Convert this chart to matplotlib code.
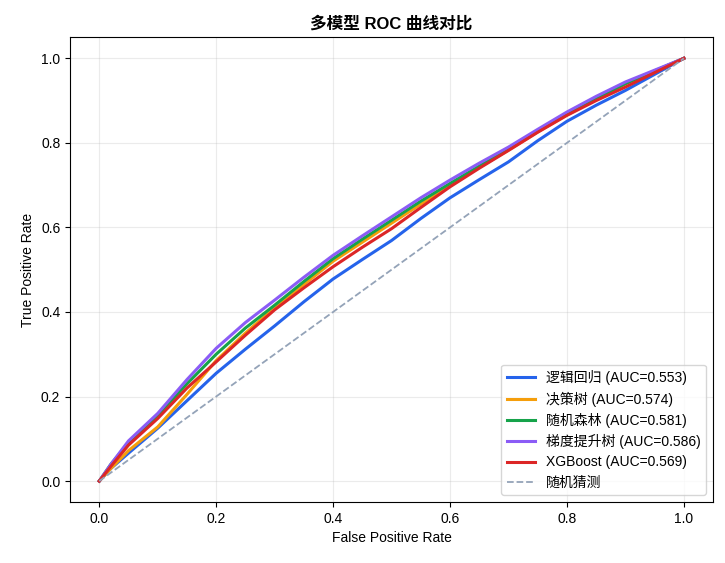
import numpy as np
import matplotlib
matplotlib.use('Agg')
from matplotlib import pyplot as plt

plt.rcParams['font.family'] = ['Liberation Sans', 'Noto Sans CJK SC', 'DejaVu Sans']
plt.rcParams['axes.unicode_minus'] = False

# FPR grid
fpr = [0, 0.02, 0.05, 0.1, 0.15, 0.2, 0.25, 0.3, 0.35, 0.4, 0.45,
       0.5, 0.55, 0.6, 0.65, 0.7, 0.75, 0.8, 0.85, 0.9, 0.95, 1.0]

tpr_lr = [0, 0.03, 0.066, 0.125, 0.19, 0.255, 0.312, 0.367, 0.424, 0.478, 0.524,
          0.569, 0.621, 0.67, 0.713, 0.755, 0.805, 0.851, 0.889, 0.924, 0.962, 1.0]
tpr_dt = [0, 0.03, 0.072, 0.128, 0.205, 0.285, 0.35, 0.41, 0.465, 0.52, 0.565,
          0.61, 0.655, 0.70, 0.742, 0.783, 0.826, 0.866, 0.904, 0.94, 0.97, 1.0]
tpr_rf = [0, 0.04, 0.09, 0.155, 0.23, 0.30, 0.362, 0.416, 0.472, 0.526, 0.572,
          0.617, 0.662, 0.704, 0.745, 0.785, 0.828, 0.868, 0.905, 0.94, 0.97, 1.0]
tpr_gb = [0, 0.04, 0.095, 0.16, 0.24, 0.314, 0.375, 0.428, 0.482, 0.534, 0.58,
          0.625, 0.67, 0.712, 0.752, 0.79, 0.832, 0.873, 0.91, 0.944, 0.972, 1.0]
tpr_xgb = [0, 0.035, 0.085, 0.148, 0.22, 0.282, 0.345, 0.405, 0.457, 0.507, 0.553,
           0.597, 0.647, 0.696, 0.74, 0.782, 0.825, 0.865, 0.9, 0.932, 0.966, 1.0]

names = ['逻辑回归', '决策树', '随机森林', '梯度提升树', 'XGBoost']
aucs = [0.553, 0.574, 0.581, 0.586, 0.569]
curves = [tpr_lr, tpr_dt, tpr_rf, tpr_gb, tpr_xgb]
colors = ['#2563eb', '#f59e0b', '#16a34a', '#8b5cf6', '#dc2626']

fig = plt.figure(figsize=(7.25, 5.63), dpi=100)
ax = fig.add_axes([0.0966, 0.108, 0.887, 0.826])

for name, auc, tpr, c in zip(names, aucs, curves, colors):
    ax.plot(fpr, tpr, color=c, lw=2.2, label=f'{name} (AUC={auc:.3f})')
ax.plot([0, 1], [0, 1], '--', color='#94a3b8', lw=1.3, label='随机猜测')

ax.set_xlim(-0.05, 1.05)
ax.set_ylim(-0.05, 1.05)
ax.set_xlabel('False Positive Rate', fontsize=10)
ax.set_ylabel('True Positive Rate', fontsize=10)
ax.set_title('多模型 ROC 曲线对比', fontsize=12, fontweight='bold')
ax.tick_params(labelsize=10)
ax.grid(True, alpha=0.25)
ax.legend(loc='lower right', fontsize=10, labelspacing=0.45)

fig.savefig('out.png', dpi=100)
